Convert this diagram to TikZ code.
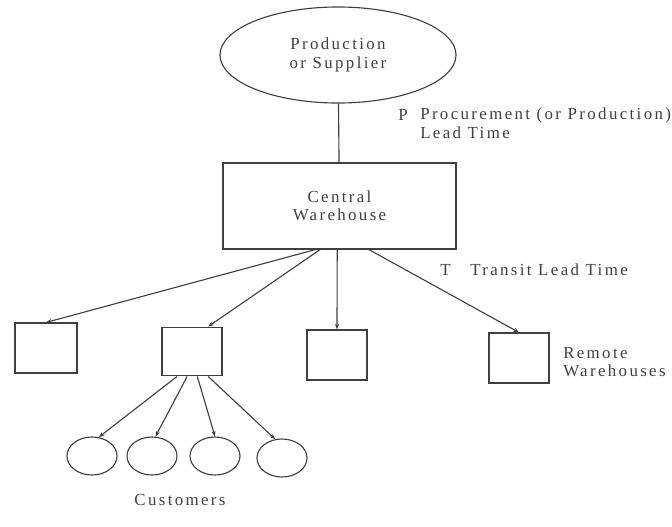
\documentclass[tikz,border=0pt]{standalone}
\usepackage{fontspec}
\setmainfont[LetterSpace=14]{Liberation Serif}
\usetikzlibrary{shapes.geometric,arrows.meta}
\begin{document}
\begin{tikzpicture}[x=0.025cm, y=-0.025cm,
  every node/.style={font=\fontsize{12}{13}\selectfont, text=black!75},
  ln/.style={draw=black!75, line width=0.8pt},
  arr/.style={ln, -{Stealth[length=4pt, width=3pt]}},
  wh/.style={ln, rectangle, inner sep=0pt},
  cust/.style={ln, ellipse, minimum width=1.25cm, minimum height=0.95cm, inner sep=0pt},
  lbl/.style={anchor=west, align=left, inner sep=0pt}]
\useasboundingbox (0,0) rectangle (672,527);
\node[ln, ellipse, minimum width=5.9cm, minimum height=2.4cm, align=center] (prod) at (338,55) {Production\\or Supplier};
\node[wh, minimum width=5.825cm, minimum height=2.15cm, align=center] (cw) at (339.5,206) {Central\\Warehouse};
\node[wh, minimum width=1.55cm, minimum height=1.25cm] (rw1) at (46,348) {};
\node[wh, minimum width=1.5cm, minimum height=1.22cm] (rw2) at (192,351.5) {};
\node[wh, minimum width=1.5cm, minimum height=1.25cm] (rw3) at (337,355) {};
\node[wh, minimum width=1.5cm, minimum height=1.25cm] (rw4) at (519,358) {};
\node[cust] (c1) at (92,456) {};
\node[cust] (c2) at (152,456) {};
\node[cust] (c3) at (215,456) {};
\node[cust] (c4) at (282,458) {};
% lead time labels
\node[lbl] (p) at (398,115) {P};
\node[lbl, anchor=north west] (plt) at (420,108) {Procurement (or Production)\\Lead Time};
\node[lbl] (t) at (440,270) {T};
\node[lbl] (tlt) at (470,270) {Transit Lead Time};
\node[lbl] (rem) at (563,362) {Remote\\Warehouses};
\node (cus) at (180,500) {Customers};
% links
\draw[ln] (prod) -- (cw);
\draw[arr] (cw.-119) -- (rw1.north);
\draw[arr] (cw.-114) -- (rw2.57);
\draw[arr] (cw.-93) -- (rw3.north);
\draw[arr] (cw.-56) -- (rw4.north);
\draw[arr] (rw2.-121) -- (c1.70);
\draw[arr] (rw2.-101) -- (c2.80);
\draw[arr] (rw2.-78) -- (c3.north);
\draw[arr] (rw2.-57) -- (c4.110);
\end{tikzpicture}
\end{document}
